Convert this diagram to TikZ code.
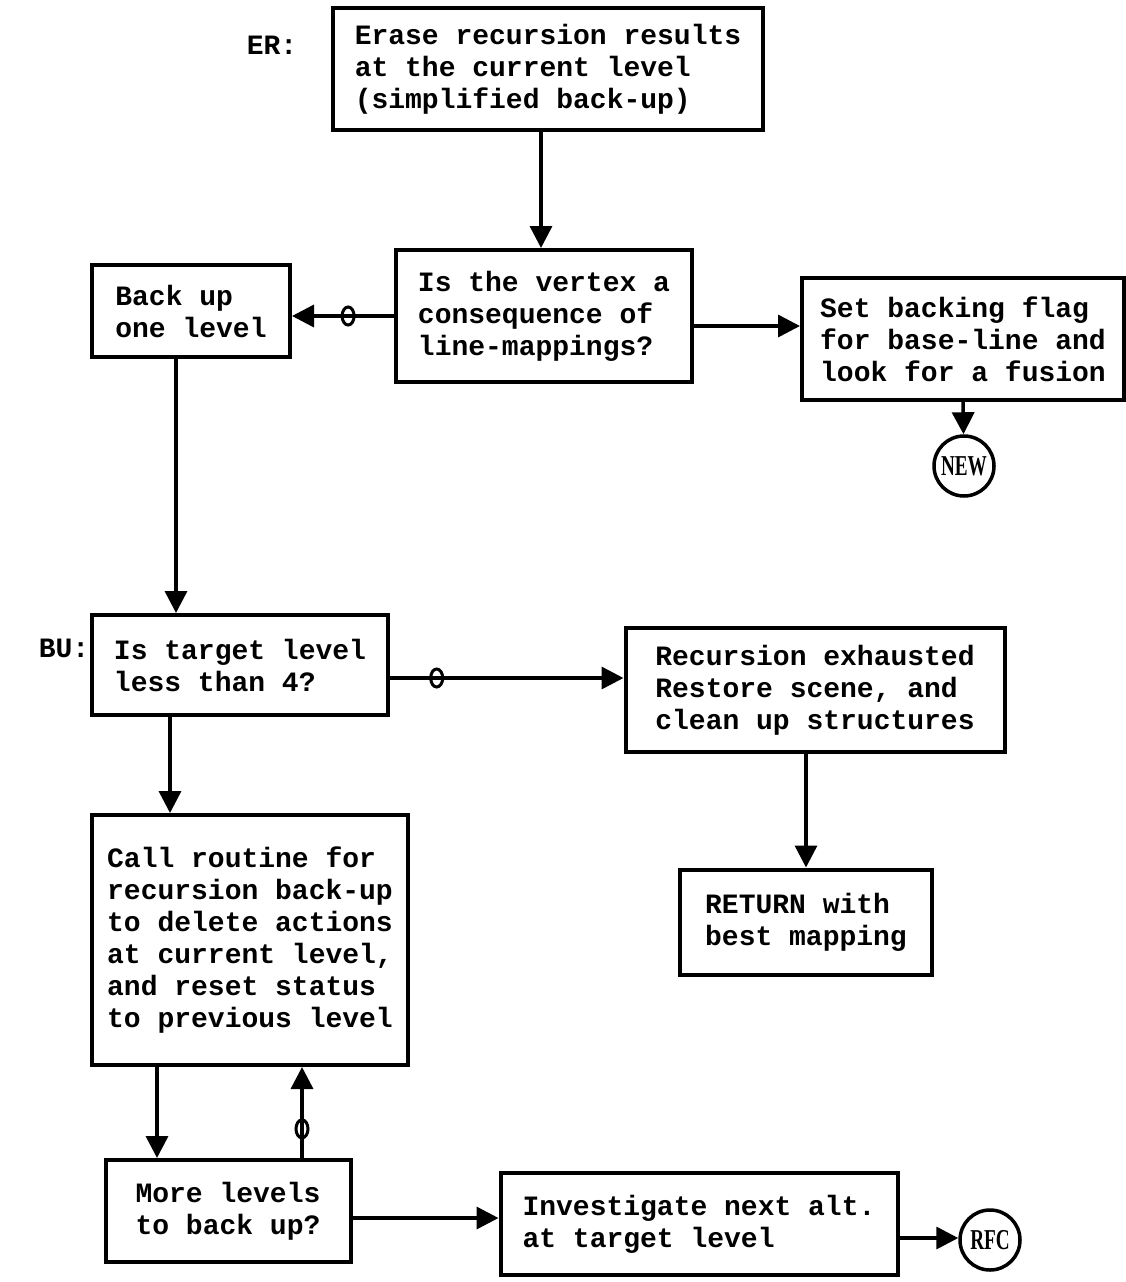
\documentclass[tikz,border=0pt]{standalone}
\usepackage{fontspec}
\setmonofont{Liberation Mono}
\newfontfamily\circfont{Liberation Serif}
\usepackage{tikz}
\usetikzlibrary{shapes.geometric, arrows.meta, positioning}

\begin{document}
\begin{tikzpicture}[x=1pt, y=-1pt,
  box/.style={draw, rectangle, line width=4pt, align=left, inner sep=0pt,
    font=\ttfamily\bfseries\fontsize{28}{32}\selectfont},
  tag/.style={font=\ttfamily\bfseries\fontsize{28}{32}\selectfont},
  term/.style={draw, circle, line width=3.5pt, inner sep=0pt, minimum size=60pt,
    font=\circfont\bfseries\fontsize{24}{26}\selectfont},
  zeromark/.style={draw, ellipse, line width=3pt, minimum width=12pt, minimum height=18pt, inner sep=0pt},
  flow/.style={line width=3.5pt, -{Triangle[length=22pt, width=22pt]}}]
  \useasboundingbox (0,0) rectangle (1126,1282);

  % Nodes
  \node[box, minimum width=430pt, minimum height=122pt] (er) at (548,69) {Erase recursion results\\at the current level\\(simplified back-up)};
  \node[tag] (ertag) at (272,45) {ER:};
  \node[box, minimum width=296pt, minimum height=132pt] (vertex) at (544,316) {Is the vertex a\\consequence of\\line-mappings?};
  \node[box, minimum width=198pt, minimum height=92pt] (backup) at (191,311) {Back up\\one level};
  \node[box, minimum width=322pt, minimum height=122pt] (flag) at (963,339) {Set backing flag\\for base-line and\\look for a fusion};
  \node[term] (new) at (964,466) {\scalebox{0.8}[1.2]{NEW}};

  \node[box, minimum width=296pt, minimum height=100pt] (target) at (240,665) {Is target level\\less than 4?};
  \node[tag] (butag) at (64,648) {BU:};
  \node[box, minimum width=379pt, minimum height=124pt] (exhaust) at (815,690) {Recursion exhausted\\Restore scene, and\\clean up structures};
  \node[box, minimum width=252pt, minimum height=105pt] (return) at (806,922) {RETURN with\\best mapping};

  \node[box, minimum width=316pt, minimum height=250pt] (call) at (250,940) {Call routine for\\recursion back-up\\to delete actions\\at current level,\\and reset status\\to previous level};
  \node[box, minimum width=245pt, minimum height=102pt] (more) at (228,1211) {More levels\\to back up?};
  \node[box, minimum width=397pt, minimum height=102pt] (next) at (699,1224) {Investigate next alt.\\at target level};
  \node[term] (rfc) at (990,1240) {\scalebox{0.8}[1.2]{RFC}};

  % Arrows
  \draw[flow] ([xshift=-7pt]er.south) -- ([xshift=-7pt]er.south |- vertex.north);
  \draw[flow] (vertex.west) -- node[zeromark, pos=0.45] {} (vertex.west -| backup.east);
  \draw[flow] ([yshift=-10pt]vertex.east) -- ([yshift=-10pt]vertex.east -| flag.west);
  \draw[flow] (flag.south) -- (new);
  \draw[flow] ([xshift=-15pt]backup.south) -- ([xshift=-15pt]backup.south |- target.north);
  \draw[flow] ([yshift=-13pt]target.east) -- node[zeromark, pos=0.2] {} ([yshift=-13pt]target.east -| exhaust.west);
  \draw[flow] (return.north |- exhaust.south) -- (return.north);
  \draw[flow] ([xshift=-70pt]target.south) -- ([xshift=-70pt]target.south |- call.north);
  \draw[flow] ([xshift=-93pt]call.south) -- ([xshift=-93pt]call.south |- more.north);
  \draw[flow] ([xshift=52pt]call.south |- more.north) -- node[zeromark, pos=0.32] {} ([xshift=52pt]call.south);
  \draw[flow] ([yshift=-7pt]more.east) -- ([yshift=-7pt]more.east -| next.west);
  \draw[flow] ([yshift=-14pt]next.east) -- ([yshift=-14pt]next.east -| rfc.west);
\end{tikzpicture}
\end{document}
